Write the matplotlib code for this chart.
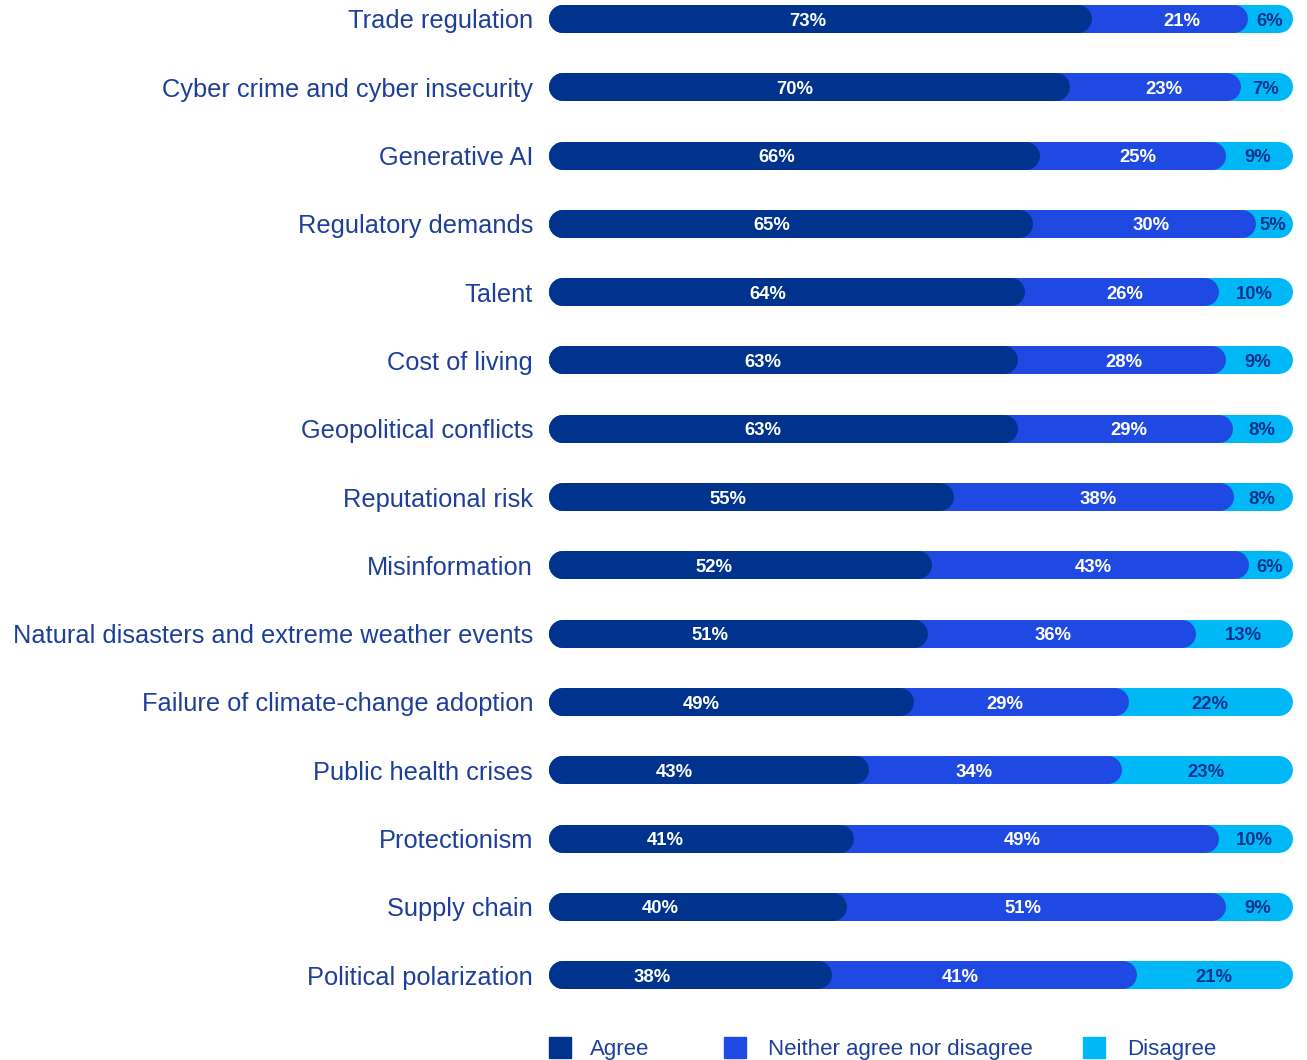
import numpy as np
import matplotlib.pyplot as plt
from matplotlib.patches import Rectangle

plt.rcParams['font.family'] = ['Liberation Sans', 'DejaVu Sans']

# Dane
categories = ['Trade regulation', 'Cyber crime and cyber insecurity', 'Generative AI',
              'Regulatory demands', 'Talent', 'Cost of living', 'Geopolitical conflicts',
              'Reputational risk', 'Misinformation',
              'Natural disasters and extreme weather events',
              'Failure of climate-change adoption', 'Public health crises',
              'Protectionism', 'Supply chain', 'Political polarization']
agree = [73, 70, 66, 65, 64, 63, 63, 55, 52, 51, 49, 43, 41, 40, 38]
neither = [21, 23, 25, 30, 26, 28, 29, 38, 43, 36, 29, 34, 49, 51, 41]
disagree = [6, 7, 9, 5, 10, 9, 8, 8, 6, 13, 22, 23, 10, 9, 21]
legend_labels = ['Agree', 'Neither agree nor disagree', 'Disagree']

c_agree = '#00338D'
c_neither = '#1E49E2'
c_disagree = '#00B8F5'
c_text = '#1E3F99'

W, H = 1307, 1060
fig = plt.figure(figsize=(W / 100, H / 100), dpi=100)
ax = fig.add_axes([549 / W, 1 - 1010 / H, 744 / W, 1010 / H])
ax.set_xlim(0, 100)
ax.set_ylim(14.51, -0.278)

bar_px = 28
lw = bar_px * 72 / 100
r = (bar_px / 2) / 744 * 100  # promień zaokrąglenia w jednostkach danych

a = np.array(agree, dtype=float)
n = np.array(neither, dtype=float)
d = np.array(disagree, dtype=float)
tot = a + n + d
y = np.arange(len(categories))

for i in y:
    # od tyłu: disagree (całość), neither, agree
    ends = [100, (a[i] + n[i]) / tot[i] * 100, a[i] / tot[i] * 100]
    for end, col in zip(ends, [c_disagree, c_neither, c_agree]):
        ax.plot([r, end - r], [i, i], color=col, lw=lw, solid_capstyle='round', zorder=2)

    ax.text(1.2 * a[i] / 2 - 9, i + 0.03, f'{agree[i]}%', color='white', fontsize=13.3,
            fontweight='bold', ha='center', va='center', zorder=5)
    cn = a[i] + n[i] / 2
    ax.text(1.19 * cn - 14.3, i + 0.03, f'{neither[i]}%', color='white', fontsize=13.3,
            fontweight='bold', ha='center', va='center', zorder=5)
    ax.text(100 - 0.2 - 0.5 * d[i], i + 0.03, f'{disagree[i]}%', color=c_agree, fontsize=13.3,
            fontweight='bold', ha='center', va='center', zorder=5)

ax.set_yticks(y)
ax.set_yticklabels(categories, fontsize=18.3, color=c_text)
ax.tick_params(axis='y', length=0, pad=11.5)
ax.set_xticks([])
for s in ax.spines.values():
    s.set_visible(False)

# Legenda
leg_sq = [549, 724, 1083]
leg_tx = [590, 768, 1127]
for col, lab, sx, tx in zip([c_agree, c_neither, c_disagree], legend_labels, leg_sq, leg_tx):
    fig.patches.append(Rectangle((sx / W, 1 - 1058 / H), 22 / W, 21 / H,
                                 transform=fig.transFigure, color=col))
    fig.text(tx / W, 1 - 1049 / H, lab, fontsize=16, color=c_text, va='center', ha='left')

fig.savefig('out.png', dpi=100)
